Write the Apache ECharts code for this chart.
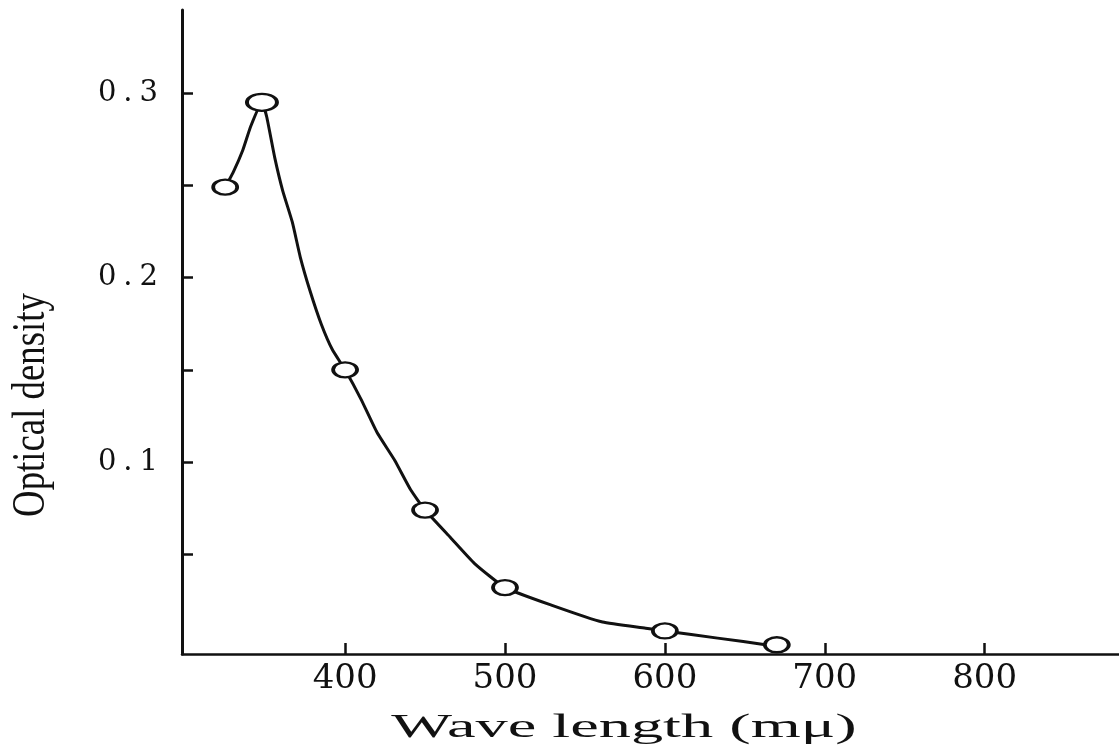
<!DOCTYPE html>
<html>
<head>
<meta charset="utf-8">
<script src="https://cdn.jsdelivr.net/npm/echarts@6/dist/echarts.min.js"></script>
<style>html,body{margin:0;padding:0;background:#fff;}#c{width:1119px;height:747px;}</style>
</head>
<body>
<div id="c"></div>
<script>
// Measured points (wavelength in mμ, optical density)
const pointX = [325, 348, 400, 450, 500, 600, 670];
const pointY = [0.249, 0.295, 0.150, 0.074, 0.032, 0.0085, 0.001];
// Hand-drawn curve
const curveX = [325, 330, 336, 341, 348, 351, 356, 361, 367, 372, 378, 385, 392, 400, 410, 420, 431, 441, 450, 466, 481, 500, 529, 561, 588, 600, 633, 665, 676];
const curveY = [0.249, 0.257, 0.269, 0.282, 0.295, 0.287, 0.265, 0.247, 0.230, 0.211, 0.193, 0.175, 0.161, 0.150, 0.134, 0.116, 0.101, 0.085, 0.074, 0.059, 0.045, 0.032, 0.0225, 0.0133, 0.010, 0.0085, 0.0046, 0.0008, -0.001];
// Tick values
const xTickValues = [400, 500, 600, 700, 800];
const yTickValues = [0.05, 0.1, 0.15, 0.2, 0.25, 0.3];
const yLabelValues = [0.1, 0.2, 0.3];
const xTitle = 'Wave length (mμ)';
const yTitle = 'Optical density';

const chart = echarts.init(document.getElementById('c'));
const ink = '#111';
chart.setOption({
  backgroundColor: '#fff',
  animation: false,
  grid: { left: 182, right: 0, top: 10, bottom: 93, containLabel: false },
  xAxis: {
    type: 'value', min: 298, max: 884,
    axisLine: { show: true, onZero: false, lineStyle: { color: ink, width: 2.5 } },
    axisTick: { show: true, inside: true, length: 11, customValues: xTickValues, lineStyle: { color: ink, width: 2.5 } },
    axisLabel: { customValues: xTickValues, margin: 8, color: ink, fontFamily: 'DejaVu Serif', fontSize: 34 },
    splitLine: { show: false }
  },
  yAxis: {
    type: 'value', min: -0.004, max: 0.345,
    axisLine: { show: true, onZero: false, lineStyle: { color: ink, width: 3 } },
    axisTick: { show: true, inside: true, length: 11, customValues: yTickValues, lineStyle: { color: ink, width: 2.5 } },
    axisLabel: {
      customValues: yLabelValues, margin: 24, color: ink,
      formatter: function (v) { const s = v.toFixed(1); return '{d|' + s[0] + '}{p|.}{d|' + s[2] + '}'; },
      rich: {
        d: { fontFamily: 'DejaVu Serif', fontSize: 29, color: ink },
        p: { fontFamily: 'DejaVu Serif', fontSize: 29, color: ink, padding: [0, 7, 0, 7] }
      }
    },
    splitLine: { show: false }
  },
  series: [
    {
      type: 'line', data: curveX.map((x, i) => [x, curveY[i]]),
      smooth: 0.15, showSymbol: false, symbol: 'none',
      lineStyle: { color: ink, width: 3, join: 'round' }, z: 2
    },
    {
      type: 'scatter', data: pointX.map((x, i) => [x, pointY[i]]),
      symbol: 'circle',
      symbolSize: function (v, p) { return p.dataIndex === 1 ? [30, 17] : [24, 15]; },
      itemStyle: { color: '#fff', borderColor: ink, borderWidth: 3, opacity: 1 }, z: 3
    }
  ],
  graphic: [
    { type: 'text', x: 624, y: 728, scaleX: 1.95, style: { text: xTitle, fill: ink, font: '33px "Liberation Serif"', textAlign: 'center', textVerticalAlign: 'middle' } },
    { type: 'text', x: 32, y: 405, rotation: Math.PI / 2, scaleX: 0.8, style: { text: yTitle, fill: ink, font: '46px "Liberation Serif"', textAlign: 'center', textVerticalAlign: 'middle' } }
  ]
});
</script>
</body>
</html>
